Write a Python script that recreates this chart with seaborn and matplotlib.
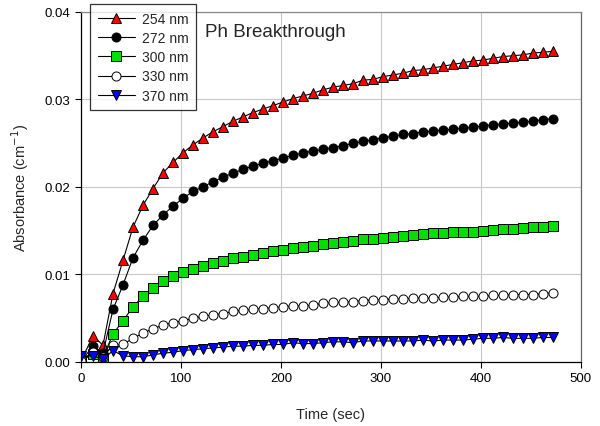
import matplotlib
matplotlib.use("Agg")
import matplotlib.pyplot as plt
import seaborn as sns
import numpy as np

# time points (sec)
time_sec = [0, 12] + list(range(22, 473, 10))

abs_254 = [0.0001, 0.0030, 0.0019, 0.0078, 0.0116, 0.0154, 0.0179, 0.0198, 0.0216, 0.0228,
           0.0239, 0.0248, 0.0256, 0.0263, 0.0269, 0.0275, 0.0280, 0.0285, 0.0289, 0.0293,
           0.0297, 0.0301, 0.0304, 0.0307, 0.0311, 0.0314, 0.0316, 0.0318, 0.0322, 0.0323,
           0.0326, 0.0328, 0.0330, 0.0333, 0.0334, 0.0336, 0.0338, 0.0340, 0.0342, 0.0344,
           0.0345, 0.0347, 0.0349, 0.0350, 0.0351, 0.0353, 0.0354, 0.0355]
abs_272 = [0.0001, 0.0018, 0.0010, 0.0060, 0.0088, 0.0119, 0.0139, 0.0156, 0.0168, 0.0178,
           0.0187, 0.0195, 0.0200, 0.0206, 0.0211, 0.0216, 0.0220, 0.0224, 0.0227, 0.0230,
           0.0233, 0.0236, 0.0239, 0.0241, 0.0243, 0.0245, 0.0247, 0.0250, 0.0252, 0.0254,
           0.0256, 0.0258, 0.0260, 0.0261, 0.0263, 0.0264, 0.0265, 0.0266, 0.0267, 0.0268,
           0.0270, 0.0271, 0.0272, 0.0273, 0.0274, 0.0275, 0.0277, 0.0278]
abs_300 = [0.0001, 0.0009, 0.0005, 0.0032, 0.0047, 0.0063, 0.0075, 0.0085, 0.0092, 0.0098,
           0.0103, 0.0106, 0.0110, 0.0113, 0.0115, 0.0119, 0.0120, 0.0122, 0.0125, 0.0127,
           0.0128, 0.0130, 0.0131, 0.0133, 0.0135, 0.0136, 0.0137, 0.0138, 0.0140, 0.0141,
           0.0142, 0.0143, 0.0144, 0.0145, 0.0146, 0.0147, 0.0147, 0.0149, 0.0149, 0.0149,
           0.0150, 0.0151, 0.0152, 0.0152, 0.0153, 0.0154, 0.0154, 0.0155]
abs_330 = [0.0001, 0.0011, 0.0006, 0.0019, 0.0020, 0.0027, 0.0033, 0.0038, 0.0042, 0.0045,
           0.0047, 0.0050, 0.0052, 0.0054, 0.0055, 0.0058, 0.0059, 0.0060, 0.0061, 0.0062,
           0.0063, 0.0064, 0.0064, 0.0065, 0.0067, 0.0068, 0.0068, 0.0069, 0.0070, 0.0071,
           0.0071, 0.0072, 0.0072, 0.0073, 0.0073, 0.0073, 0.0074, 0.0074, 0.0075, 0.0075,
           0.0075, 0.0076, 0.0076, 0.0077, 0.0077, 0.0077, 0.0078, 0.0079]
abs_370 = [0.0007, 0.0007, 0.0003, 0.0013, 0.0007, 0.0006, 0.0006, 0.0008, 0.0010, 0.0011,
           0.0013, 0.0014, 0.0015, 0.0016, 0.0017, 0.0018, 0.0018, 0.0019, 0.0019, 0.0020,
           0.0020, 0.0022, 0.0021, 0.0021, 0.0022, 0.0023, 0.0023, 0.0022, 0.0024, 0.0024,
           0.0024, 0.0024, 0.0024, 0.0024, 0.0025, 0.0024, 0.0025, 0.0025, 0.0025, 0.0026,
           0.0027, 0.0027, 0.0028, 0.0027, 0.0027, 0.0027, 0.0028, 0.0028]

labels = ["254 nm", "272 nm", "300 nm", "330 nm", "370 nm"]
series = [abs_254, abs_272, abs_300, abs_330, abs_370]
markers = ["^", "o", "s", "o", "v"]
faces = ["#ff0000", "black", "#00e000", "white", "#0000ff"]

sns.set_style("white")
plt.rcParams["font.family"] = ["Liberation Sans", "DejaVu Sans"]

fig = plt.figure(figsize=(6, 4.27), dpi=100)
ax = fig.add_axes([0.135, 0.15, 0.833, 0.8196])

for lab, vals, mk, fc in zip(labels, series, markers, faces):
    sns.lineplot(x=time_sec, y=vals, ax=ax, color="black", linewidth=0.8,
                 marker=mk, markersize=6.5, markerfacecolor=fc,
                 markeredgecolor="black", markeredgewidth=0.7, label=lab)

ax.set_xlim(0, 500)
ax.set_ylim(0, 0.04)
ax.set_xticks(np.arange(0, 501, 100))
ax.set_yticks([0.0, 0.01, 0.02, 0.03, 0.04])
ax.set_yticklabels(["0.00", "0.01", "0.02", "0.03", "0.04"])
ax.grid(True, color="#c8c8c8", linewidth=0.8)
ax.set_axisbelow(True)
ax.tick_params(axis="both", direction="out", length=4, width=0.8,
               labelsize=9.5, colors="black", left=True, bottom=True)
ax.spines["left"].set_color("black")
ax.spines["bottom"].set_color("black")
ax.spines["top"].set_color("#888888")
ax.spines["right"].set_color("#666666")
for s in ax.spines.values():
    s.set_linewidth(0.9)

ax.set_xlabel("Time (sec)", fontsize=10.5, labelpad=16)
ax.set_ylabel("Absorbance (cm$^{-1}$)", fontsize=10.5, labelpad=10)

ax.text(0.248, 0.943, "Ph Breakthrough", transform=ax.transAxes,
        fontsize=13.5, ha="left", va="center")

leg = ax.legend(loc="upper left", bbox_to_anchor=(0.018, 1.023), borderaxespad=0,
                fontsize=10, frameon=True, fancybox=False, handlelength=2.7,
                labelspacing=0.38, borderpad=0.55, handletextpad=0.5)
leg.get_frame().set_edgecolor("black")
leg.get_frame().set_linewidth(0.9)
leg.set_zorder(5)

fig.savefig("out.png", dpi=100)
